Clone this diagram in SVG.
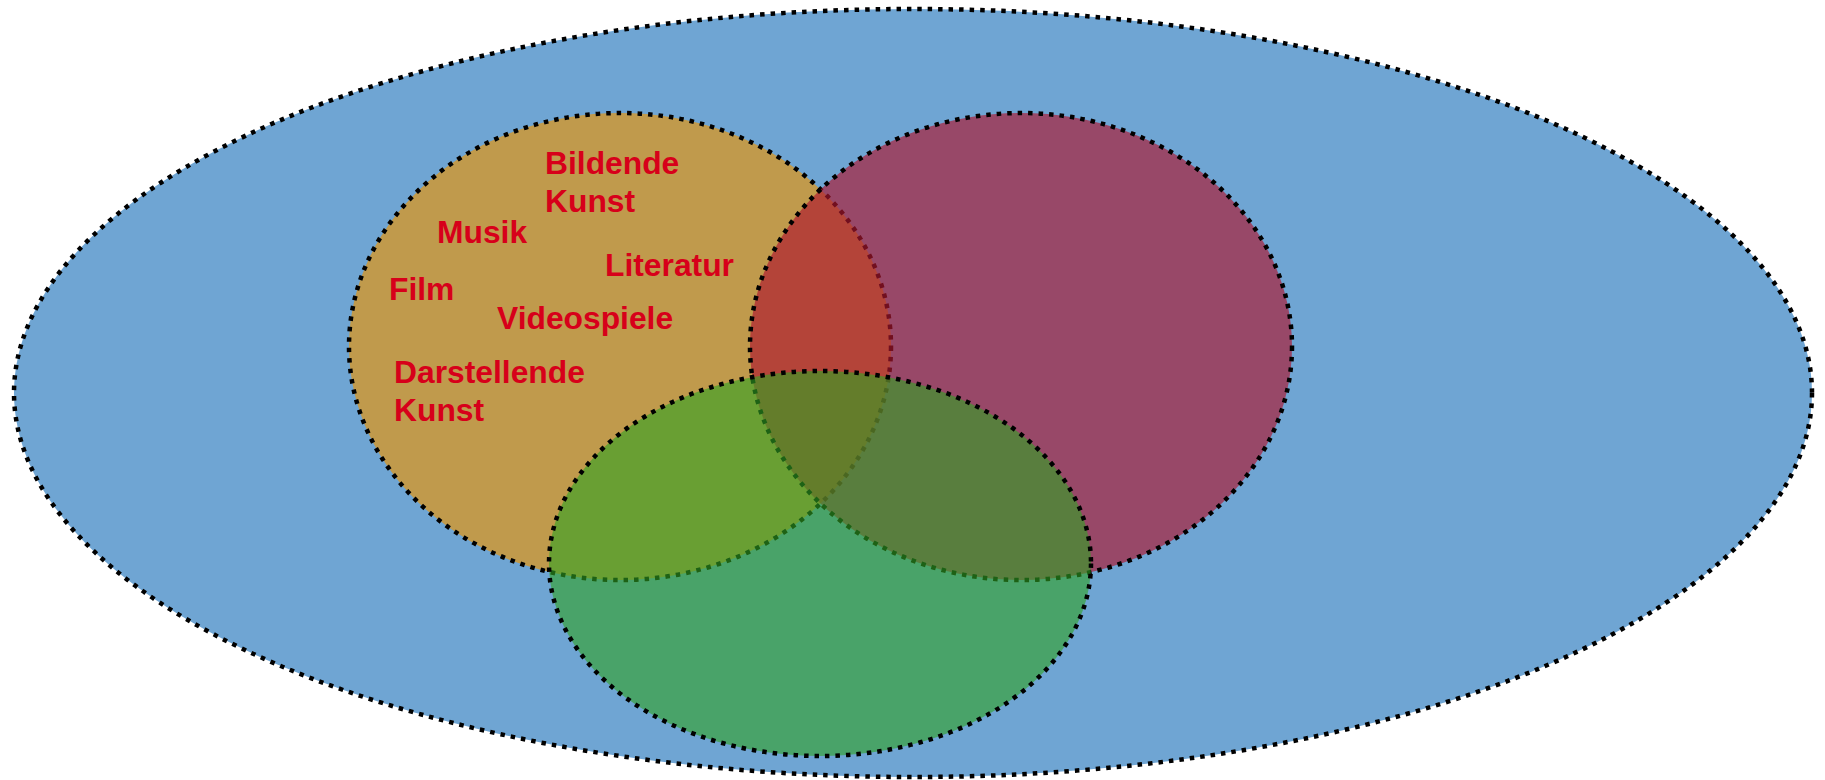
<svg xmlns="http://www.w3.org/2000/svg" width="1825" height="780" viewBox="0 0 1825 780">
  <style>
    .set { stroke: #000000; stroke-width: 4.5; stroke-dasharray: 4.5 6; }
    .lbl { font-family: "Liberation Sans", Arial, sans-serif; font-weight: bold; font-size: 31.8px; fill: #D7001A; }
  </style>
  <rect width="1825" height="780" fill="#ffffff"/>
  <g id="outer">
    <ellipse class="set" cx="913" cy="393" rx="899" ry="384" fill="#6FA5D3"/>
  </g>
  <g id="orange">
    <ellipse class="set" cx="620" cy="346.5" rx="271" ry="233.5" fill="#C09A4C"/>
  </g>
  <g id="purple">
    <ellipse class="set" cx="1021" cy="346.5" rx="271" ry="233.5" fill="#AE172F" fill-opacity="0.654"/>
  </g>
  <g id="green">
    <ellipse class="set" cx="820" cy="563.5" rx="271" ry="192.5" fill="#30A322" fill-opacity="0.605"/>
  </g>
  <g id="labels">
    <text class="lbl" x="545" y="174">Bildende</text>
    <text class="lbl" x="545" y="212">Kunst</text>
    <text class="lbl" x="437" y="243">Musik</text>
    <text class="lbl" x="605" y="276">Literatur</text>
    <text class="lbl" x="389" y="300">Film</text>
    <text class="lbl" x="497" y="329">Videospiele</text>
    <text class="lbl" x="394" y="383">Darstellende</text>
    <text class="lbl" x="394" y="421">Kunst</text>
  </g>
  <g id="connectors"></g>
</svg>
